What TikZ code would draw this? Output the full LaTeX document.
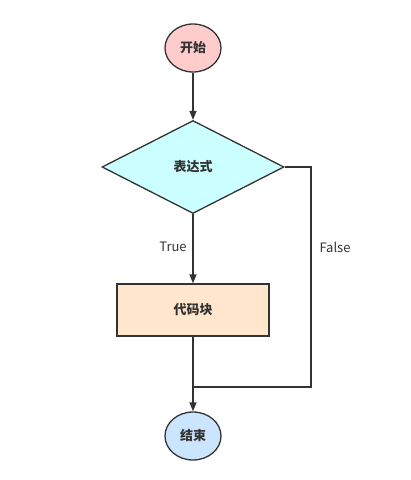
\documentclass[tikz,border=0pt]{standalone}
\usepackage{fontspec}
\newfontfamily\cjk{Noto Sans CJK SC}
\usetikzlibrary{shapes.geometric,arrows.meta}

\definecolor{linegray}{HTML}{333333}
\definecolor{startfill}{HTML}{FFCCCC}
\definecolor{condfill}{HTML}{CCFFFF}
\definecolor{codefill}{HTML}{FFE6CC}
\definecolor{endfill}{HTML}{CCE5FF}

\tikzset{
    terminal/.style={ellipse, draw=linegray, line width=1.3pt, minimum width=56pt, minimum height=48pt, inner sep=0pt, text=linegray, font=\cjk\bfseries\fontsize{13}{15}\selectfont},
    decision/.style={diamond, draw=linegray, fill=condfill, line width=1.3pt, minimum width=182pt, minimum height=93pt, inner sep=0pt, text=linegray, font=\cjk\bfseries\fontsize{13}{15}\selectfont},
    process/.style={rectangle, draw=linegray, fill=codefill, line width=1.3pt, minimum width=152pt, minimum height=52pt, inner sep=0pt, text=linegray, font=\cjk\bfseries\fontsize{13}{15}\selectfont},
    flow/.style={draw=linegray, line width=1.3pt, -{Triangle[length=9pt,width=7pt]}},
    branch/.style={font=\cjk\fontsize{13}{15}\selectfont, text=linegray},
}

\begin{document}
\begin{tikzpicture}[x=1pt, y=-1pt]
\useasboundingbox (0,0) rectangle (411,480);

\node[terminal, fill=startfill] (start) at (193,48) {开始};
\node[decision] (cond) at (193,167) {表达式};
\node[process] (code) at (193,310) {代码块};
\node[terminal, fill=endfill] (stop) at (193,436) {结束};
\coordinate (fbend) at (311,387);

\draw[flow] (start) -- (cond);
\draw[flow] (cond) -- (code);
\draw[flow] (code) -- (stop);
\draw[draw=linegray, line width=1.3pt] (cond.east) -| (fbend) -- (fbend -| stop);

\node[branch] (truelbl) at (173,247) {True};
\node[branch] (falselbl) at (335,247) {False};
\end{tikzpicture}
\end{document}
